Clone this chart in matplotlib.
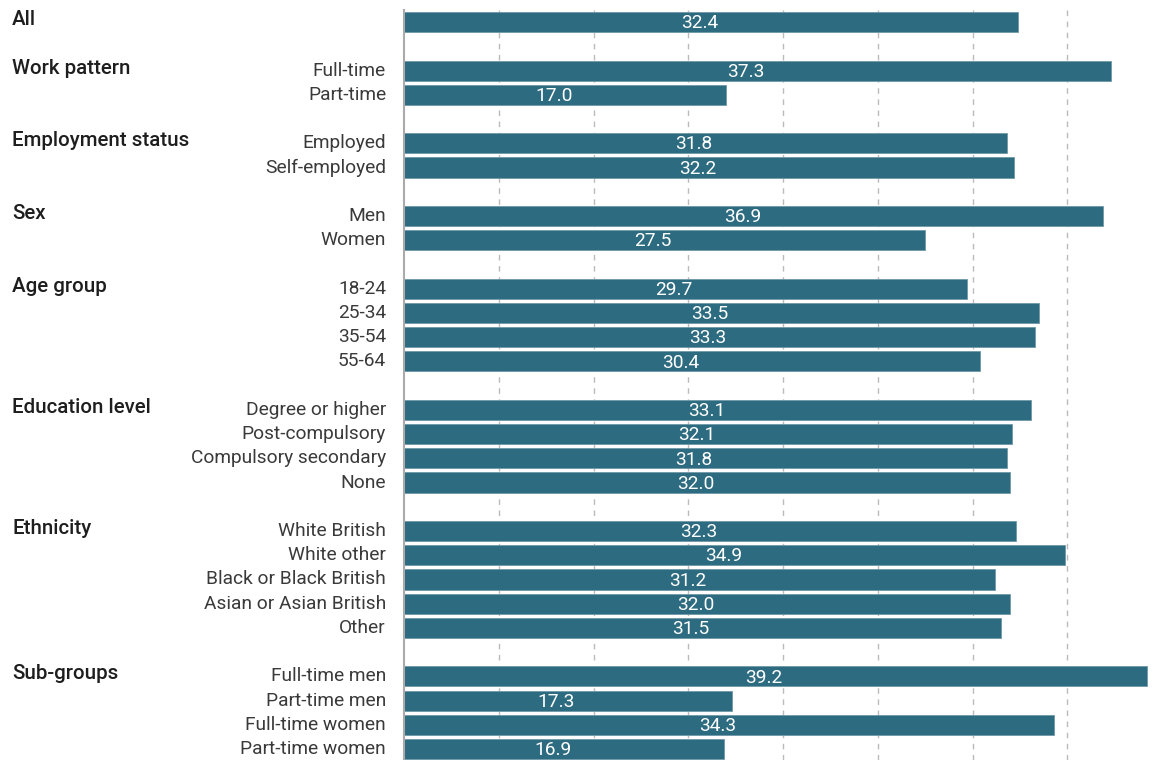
import matplotlib.pyplot as plt

# groups and rows, top to bottom
groups = ["All", "Work pattern", "Employment status", "Sex", "Age group",
          "Education level", "Ethnicity", "Sub-groups"]
labels = [
    [""],
    ["Full-time", "Part-time"],
    ["Employed", "Self-employed"],
    ["Men", "Women"],
    ["18-24", "25-34", "35-54", "55-64"],
    ["Degree or higher", "Post-compulsory", "Compulsory secondary", "None"],
    ["White British", "White other", "Black or Black British",
     "Asian or Asian British", "Other"],
    ["Full-time men", "Part-time men", "Full-time women", "Part-time women"],
]
values = [
    [32.4],
    [37.3, 17.0],
    [31.8, 32.2],
    [36.9, 27.5],
    [29.7, 33.5, 33.3, 30.4],
    [33.1, 32.1, 31.8, 32.0],
    [32.3, 34.9, 31.2, 32.0, 31.5],
    [39.2, 17.3, 34.3, 16.9],
]

bar_color = "#2d6b80"
font = "Roboto"

fig = plt.figure(figsize=(11.53, 7.6), dpi=100)
ax = fig.add_axes([404 / 1153, 0, 1 - 404 / 1153, 1 - 10 / 760])

row = 0
for g, labs, vals in zip(groups, labels, values):
    ax.text(-392 / 18.95, row - 0.1, g, ha="left", va="center", fontsize=14.8,
            family=font, weight=500, color="#1e1e1e")
    for lab, v in zip(labs, vals):
        ax.barh(row, v, height=0.83, color=bar_color, edgecolor="#6f98a8",
                linewidth=0.6, zorder=3)
        ax.text(v / 2 - 0.6, row + 0.05, f"{v:.1f}", ha="center", va="center",
                fontsize=13.8, family=font, weight="normal", color="white", zorder=4)
        if lab:
            ax.text(-18 / 18.95, row, lab, ha="right", va="center", fontsize=13.8,
                    family=font, weight="normal", color="#3a3a3a")
        row += 1
    row += 1

ax.set_xlim(0, 749 / 18.95)
ax.set_ylim(row - 1.55, -0.5)
ax.set_xticks(range(5, 40, 5))
ax.set_yticks([])
ax.tick_params(axis="x", length=0, labelbottom=False)
ax.grid(axis="x", color="#bbbbbb", linestyle=(0, (4, 4)), linewidth=1, zorder=0)
for s in ["top", "right", "bottom"]:
    ax.spines[s].set_visible(False)
ax.spines["left"].set_color("#aaaaaa")
ax.spines["left"].set_linewidth(1.5)
ax.spines["left"].set_zorder(5)

fig.savefig("out.png", dpi=100)
